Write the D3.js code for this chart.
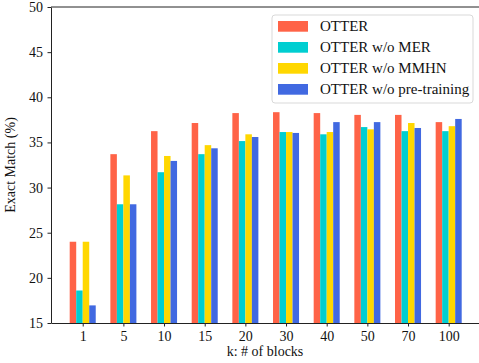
<!DOCTYPE html>
<html>
<head>
<meta charset="utf-8">
<script src="https://cdn.jsdelivr.net/npm/d3@7"></script>
<style>
  body { margin: 0; background: #fff; }
  text { font-family: "Liberation Serif", "Times New Roman", serif; fill: #111; }
</style>
</head>
<body>
<svg id="chart" width="479" height="363"></svg>
<script>
// values
const categories = ["1", "5", "10", "15", "20", "30", "40", "50", "70", "100"];
const seriesNames = ["OTTER", "OTTER w/o MER", "OTTER w/o MMHN", "OTTER w/o pre-training"];
const otter       = [24.0, 33.7, 36.25, 37.15, 38.25, 38.35, 38.25, 38.05, 38.05, 37.25];
const noMER       = [18.6, 28.15, 31.7, 33.7, 35.15, 36.15, 35.9, 36.7, 36.25, 36.25];
const noMMHN      = [24.0, 31.35, 33.5, 34.7, 35.9, 36.15, 36.15, 36.45, 37.15, 36.8];
const noPretrain  = [16.95, 28.15, 32.95, 34.35, 35.6, 36.05, 37.25, 37.25, 36.6, 37.6];
const yTicks = [15, 20, 25, 30, 35, 40, 45, 50];
const colors = ["#FF6347", "#00CED1", "#FFD700", "#4169E1"];

const series = [otter, noMER, noMMHN, noPretrain];
const serif = '"Liberation Serif", "Times New Roman", serif';

const svg = d3.select("#chart");
const mLeft = 51, mTop = 7, mBottom = 323, mRight = 480.4;

const x = d3.scaleLinear().domain([-0.78, 9.78]).range([mLeft, mRight]);
const y = d3.scaleLinear().domain([15, 50]).range([mBottom, mTop]);
const barW = 0.16;

// bars
series.forEach((vals, j) => {
  svg.append("g")
    .selectAll("rect")
    .data(vals)
    .enter()
    .append("rect")
    .attr("x", (d, i) => x(i + (j - 2) * barW))
    .attr("width", x(barW) - x(0))
    .attr("y", d => y(d))
    .attr("height", d => y(15) - y(d))
    .attr("fill", colors[j]);
});

// axes
const xAxis = d3.axisBottom(x)
  .tickValues(d3.range(categories.length))
  .tickFormat(i => categories[i])
  .tickSize(3.5).tickSizeOuter(0);
const gx = svg.append("g").attr("transform", `translate(0,${mBottom})`).call(xAxis);

const yAxis = d3.axisLeft(y).tickValues(yTicks).tickSize(3.5).tickSizeOuter(0);
const gy = svg.append("g").attr("transform", `translate(${mLeft},0)`).call(yAxis);

[gx, gy].forEach(g => {
  g.attr("font-family", serif);
  g.selectAll("path, line").attr("stroke", "#222").attr("stroke-width", 1);
  g.selectAll("text").style("font-family", serif).style("font-size", "14px").attr("fill", "#111");
});
gx.selectAll("text").attr("dy", "0.8em");
gy.selectAll("text").attr("dx", "-0.1em");

// top spine
svg.append("line")
  .attr("x1", mLeft).attr("x2", 479)
  .attr("y1", mTop).attr("y2", mTop)
  .attr("stroke", "#222").attr("stroke-width", 1);

// axis titles
svg.append("text")
  .attr("x", 265).attr("y", 356)
  .attr("text-anchor", "middle")
  .style("font-size", "14px")
  .text("k: # of blocks");

svg.append("text")
  .attr("transform", "translate(15,165) rotate(-90)")
  .attr("text-anchor", "middle")
  .style("font-size", "14px")
  .text("Exact Match (%)");

// legend
const lg = svg.append("g");
lg.append("rect")
  .attr("x", 272).attr("y", 15)
  .attr("width", 201).attr("height", 88)
  .attr("rx", 3)
  .attr("fill", "rgba(255,255,255,0.85)")
  .attr("stroke", "#d9d9d9");

seriesNames.forEach((name, j) => {
  const cy = 26.3 + j * 21;
  lg.append("rect")
    .attr("x", 278).attr("y", cy - 5.3)
    .attr("width", 30).attr("height", 10.7)
    .attr("fill", colors[j]);
  lg.append("text")
    .attr("x", 320).attr("y", cy + 5)
    .style("font-size", "15px")
    .text(name);
});
</script>
</body>
</html>
